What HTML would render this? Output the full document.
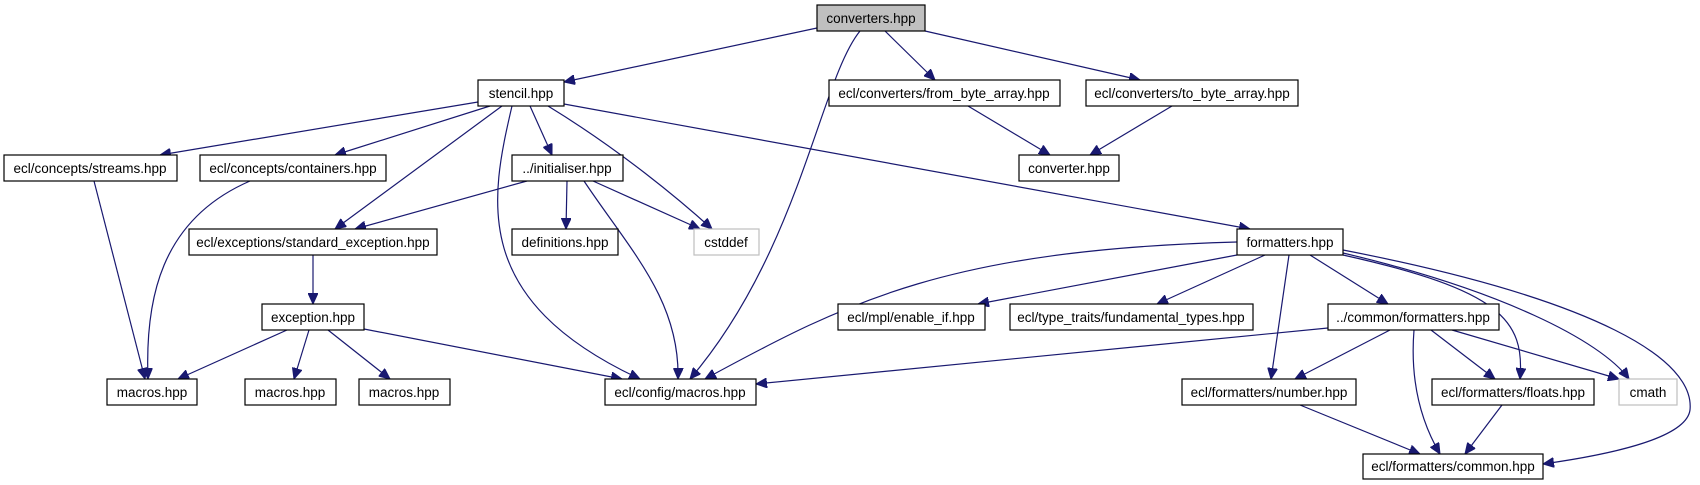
<!DOCTYPE html>
<html><head><meta charset="utf-8"><style>
html,body{margin:0;padding:0;background:#fff;}
svg{display:block;}
text{font-family:"Liberation Sans",sans-serif;font-size:13.5px;fill:#000;text-anchor:middle;}
rect{fill:#fff;stroke:#000;stroke-width:1.2;}
path{fill:none;stroke:#191970;stroke-width:1.2;}
</style></head><body>
<svg width="1700" height="485" viewBox="0 0 1700 485" xmlns="http://www.w3.org/2000/svg">
<defs>
<marker id="a" markerUnits="userSpaceOnUse" markerWidth="12" markerHeight="10" refX="11" refY="5" orient="auto">
<path d="M0,0 L11,5 L0,10 Z" style="fill:#191970;stroke:#191970;stroke-width:1"/>
</marker>
</defs>
<g marker-end="url(#a)">
<path d="M817,28 L564,82"/>
<path d="M860,31 C820,80 800,250 690,379"/>
<path d="M885,31 L935,80"/>
<path d="M925,31 L1140,80"/>
<path d="M968,106 L1050,155"/>
<path d="M1172,106 L1090,155"/>
<path d="M478,102 L160,155"/>
<path d="M490,106 L335,155"/>
<path d="M502,106 L335,229"/>
<path d="M512,106 C490,200 470,300 640,379"/>
<path d="M530,106 L552,155"/>
<path d="M548,106 C620,150 680,200 712,229"/>
<path d="M564,104 L1250,229"/>
<path d="M250,181 C160,220 145,300 148,379"/>
<path d="M94,181 L145,379"/>
<path d="M527,181 L355,229"/>
<path d="M567,181 L566,229"/>
<path d="M593,181 L700,229"/>
<path d="M584,181 C630,250 680,300 678,379"/>
<path d="M313,255 L313,304"/>
<path d="M287,330 L178,379"/>
<path d="M309,330 L294,379"/>
<path d="M328,330 L390,379"/>
<path d="M364,329 L622,379"/>
<path d="M1237,242 C950,250 850,300 705,379"/>
<path d="M1237,255 L978,304"/>
<path d="M1265,255 L1157,304"/>
<path d="M1289,255 L1271,379"/>
<path d="M1310,255 L1388,304"/>
<path d="M1343,255 C1500,290 1525,320 1520,379"/>
<path d="M1343,253 C1500,290 1600,340 1629,379"/>
<path d="M1343,250 C1600,300 1695,360 1690,410 C1686,440 1600,456 1543,464"/>
<path d="M1328,328 L756,384"/>
<path d="M1390,330 L1295,379"/>
<path d="M1414,330 C1410,380 1420,420 1440,454"/>
<path d="M1431,330 L1495,379"/>
<path d="M1452,330 L1619,379"/>
<path d="M1300,405 L1420,454"/>
<path d="M1502,405 L1465,454"/>
</g>
<rect x="817" y="5" width="108" height="26" style="fill:#bfbfbf"/><text x="871" y="23">converters.hpp</text>
<rect x="478" y="80" width="86" height="26"/><text x="521" y="98">stencil.hpp</text>
<rect x="829" y="80" width="231" height="26"/><text x="944" y="98">ecl/converters/from_byte_array.hpp</text>
<rect x="1086" y="80" width="212" height="26"/><text x="1192" y="98">ecl/converters/to_byte_array.hpp</text>
<rect x="4" y="155" width="173" height="26"/><text x="90" y="173">ecl/concepts/streams.hpp</text>
<rect x="200" y="155" width="186" height="26"/><text x="293" y="173">ecl/concepts/containers.hpp</text>
<rect x="512" y="155" width="111" height="26"/><text x="567" y="173">../initialiser.hpp</text>
<rect x="1019" y="155" width="100" height="26"/><text x="1069" y="173">converter.hpp</text>
<rect x="189" y="229" width="248" height="26"/><text x="313" y="247">ecl/exceptions/standard_exception.hpp</text>
<rect x="512" y="229" width="106" height="26"/><text x="565" y="247">definitions.hpp</text>
<rect x="694" y="229" width="65" height="26" style="stroke:#bfbfbf"/><text x="726" y="247">cstddef</text>
<rect x="1237" y="229" width="106" height="26"/><text x="1290" y="247">formatters.hpp</text>
<rect x="262" y="304" width="102" height="26"/><text x="313" y="322">exception.hpp</text>
<rect x="838" y="304" width="147" height="26"/><text x="911" y="322">ecl/mpl/enable_if.hpp</text>
<rect x="1010" y="304" width="243" height="26"/><text x="1131" y="322">ecl/type_traits/fundamental_types.hpp</text>
<rect x="1328" y="304" width="171" height="26"/><text x="1413" y="322">../common/formatters.hpp</text>
<rect x="107" y="379" width="90" height="26"/><text x="152" y="397">macros.hpp</text>
<rect x="245" y="379" width="91" height="26"/><text x="290" y="397">macros.hpp</text>
<rect x="359" y="379" width="91" height="26"/><text x="404" y="397">macros.hpp</text>
<rect x="605" y="379" width="151" height="26"/><text x="680" y="397">ecl/config/macros.hpp</text>
<rect x="1182" y="379" width="174" height="26"/><text x="1269" y="397">ecl/formatters/number.hpp</text>
<rect x="1432" y="379" width="162" height="26"/><text x="1513" y="397">ecl/formatters/floats.hpp</text>
<rect x="1619" y="379" width="58" height="26" style="stroke:#bfbfbf"/><text x="1648" y="397">cmath</text>
<rect x="1363" y="454" width="180" height="25"/><text x="1453" y="471">ecl/formatters/common.hpp</text>
</svg>
</body></html>
